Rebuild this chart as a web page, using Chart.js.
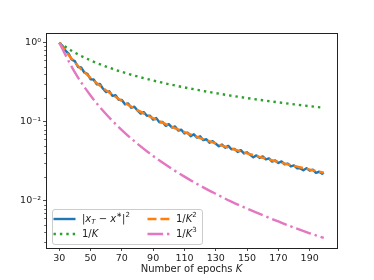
<!DOCTYPE html>
<html>
<head>
<meta charset="utf-8">
<script src="https://cdn.jsdelivr.net/npm/chart.js@4.4.1/dist/chart.umd.min.js"></script>
<style>
  html, body { margin: 0; padding: 0; background: #fff; }
  #wrap { width: 374px; height: 280px; }
</style>
</head>
<body>
<div id="wrap"><canvas id="chart" width="374" height="280"></canvas></div>
<script>
const epochsFine = [30, 32, 34, 36, 38, 40, 42, 44, 46, 48, 50, 52, 54, 56, 58, 60, 62, 64, 66, 68,
  70, 72, 74, 76, 78, 80, 82, 84, 86, 88, 90, 92, 94, 96, 98, 100, 102, 104, 106, 108,
  110, 112, 114, 116, 118, 120, 122, 124, 126, 128, 130, 132, 134, 136, 138, 140, 142, 144, 146, 148,
  150, 152, 154, 156, 158, 160, 162, 164, 166, 168, 170, 172, 174, 176, 178, 180, 182, 184, 186, 188,
  190, 192, 194, 196, 198, 199];
const errorValues = [1.000, 0.923, 0.794, 0.729, 0.611, 0.585, 0.495, 0.488, 0.421, 0.406,
  0.346, 0.343, 0.299, 0.301, 0.262, 0.2375, 0.2435, 0.2131, 0.2169, 0.1907,
  0.1892, 0.1667, 0.1710, 0.1511, 0.1553, 0.1392, 0.1271, 0.1327, 0.1193, 0.1197,
  0.1067, 0.1116, 0.0988, 0.0997, 0.0890, 0.0936, 0.0848, 0.0874, 0.0777, 0.0795,
  0.0714, 0.0731, 0.0658, 0.0696, 0.0633, 0.0656, 0.0587, 0.0603, 0.0544, 0.0571,
  0.0528, 0.0491, 0.0516, 0.0472, 0.0497, 0.0450, 0.0455, 0.0417, 0.0439, 0.0399,
  0.0412, 0.0382, 0.0356, 0.0377, 0.0350, 0.0366, 0.0336, 0.0345, 0.0314, 0.0325,
  0.0302, 0.0316, 0.0291, 0.0297, 0.0273, 0.0281, 0.0258, 0.0258, 0.0244, 0.0260,
  0.0242, 0.0249, 0.0227, 0.0234, 0.0221, 0.0227];

// reference rates, read every 10 epochs
const epochsCoarse = [30, 40, 50, 60, 70, 80, 90, 100, 110, 120, 130, 140, 150, 160, 170, 180, 190, 199];
const invK = [1.0, 0.75, 0.6, 0.5, 0.4286, 0.375, 0.3333, 0.3, 0.2727, 0.25, 0.2308, 0.2143,
  0.2, 0.1875, 0.1765, 0.1667, 0.1579, 0.1508];
const invK2 = [1.0, 0.5625, 0.36, 0.25, 0.1837, 0.1406, 0.1111, 0.09, 0.0744, 0.0625, 0.0533, 0.0459,
  0.04, 0.0352, 0.0311, 0.0278, 0.0249, 0.0227];
const invK3 = [1.0, 0.4219, 0.216, 0.125, 0.0787, 0.0527, 0.037, 0.027, 0.0203, 0.0156, 0.0123, 0.0098,
  0.008, 0.0066, 0.0055, 0.0046, 0.0039, 0.0034];

const xTicks = [30, 50, 70, 90, 110, 130, 150, 170, 190];
const yMajor = [0.01, 0.1, 1];
const yMajorLabels = ['10\u207B\u00B2', '10\u207B\u00B9', '10\u2070'];
const yMinor = [0.003, 0.004, 0.005, 0.006, 0.007, 0.008, 0.009,
  0.02, 0.03, 0.04, 0.05, 0.06, 0.07, 0.08, 0.09,
  0.2, 0.3, 0.4, 0.5, 0.6, 0.7, 0.8, 0.9];

const BLUE = '#1f77b4', ORANGE = '#ff7f0e', GREEN = '#2ca02c', PINK = '#e377c2';
const FONT = 'DejaVu Sans';
const DASH_DOT = [2.4, 4];
const DASH = [9, 3.9];
const DASH_DASHDOT = [15.6, 3.9, 2.4, 3.9];

function pts(xs, ys) {
  return xs.map((x, i) => ({ x: x, y: ys[i] }));
}

// draw a line of text made of pieces (italic / sub / superscript)
function drawRich(ctx, x, y, parts, size) {
  let cx = x;
  parts.forEach(p => {
    const s = p.small ? size * 0.7 : size;
    ctx.font = (p.it ? 'italic ' : '') + s + 'px "' + FONT + '"';
    ctx.fillText(p.t, cx, y + (p.dy || 0));
    cx += ctx.measureText(p.t).width;
  });
  return cx - x;
}

const extras = {
  id: 'extras',
  afterDatasetsDraw(chart) {
    const ctx = chart.ctx;
    const a = chart.chartArea;
    const ys = chart.scales.y;
    ctx.save();
    // minor ticks on log axis
    ctx.strokeStyle = '#222';
    ctx.lineWidth = 0.7;
    yMinor.forEach(v => {
      const py = Math.round(ys.getPixelForValue(v)) + 0.5;
      ctx.beginPath();
      ctx.moveTo(a.left - 1.8, py);
      ctx.lineTo(a.left, py);
      ctx.stroke();
    });
    // frame
    ctx.lineWidth = 1;
    ctx.strokeStyle = '#222';
    ctx.strokeRect(Math.round(a.left) + 0.5, Math.round(a.top) + 0.5,
      Math.round(a.right - a.left), Math.round(a.bottom - a.top));

    // legend
    const lx = a.left + 6, ly = a.bottom - 39, lw = 150, lh = 35;
    ctx.fillStyle = 'rgba(255,255,255,0.85)';
    ctx.strokeStyle = '#cccccc';
    ctx.beginPath();
    ctx.roundRect(lx + 0.5, ly + 0.5, lw, lh, 2.5);
    ctx.fill();
    ctx.stroke();

    const entries = [
      { c: BLUE, d: [], col: 0, row: 0, parts: [{ t: '|' }, { t: 'x', it: 1 }, { t: 'T', it: 1, small: 1, dy: 2.5 }, { t: ' \u2212 ' }, { t: 'x', it: 1 }, { t: '\u2217', small: 1, dy: -4 }, { t: '|' }, { t: '2', small: 1, dy: -4.5 }] },
      { c: GREEN, d: DASH_DOT, col: 0, row: 1, parts: [{ t: '1/' }, { t: 'K', it: 1 }] },
      { c: ORANGE, d: DASH, col: 1, row: 0, parts: [{ t: '1/' }, { t: 'K', it: 1 }, { t: '2', small: 1, dy: -4.5 }] },
      { c: PINK, d: DASH_DASHDOT, col: 1, row: 1, parts: [{ t: '1/' }, { t: 'K', it: 1 }, { t: '3', small: 1, dy: -4.5 }] }
    ];
    entries.forEach(e => {
      const x0 = e.col ? lx + 95.5 : lx + 1.5;
      const yRow = ly + 10 + e.row * 15;
      ctx.strokeStyle = e.c;
      ctx.lineWidth = 2.4;
      ctx.setLineDash(e.d);
      ctx.beginPath();
      ctx.moveTo(x0, yRow);
      ctx.lineTo(x0 + 22, yRow);
      ctx.stroke();
      ctx.setLineDash([]);
      ctx.fillStyle = '#222';
      ctx.textBaseline = 'middle';
      drawRich(ctx, x0 + 28.5, yRow + 0.5, e.parts, 10);
    });

    // x axis title with italic K
    ctx.textBaseline = 'alphabetic';
    ctx.fillStyle = '#222';
    ctx.font = '10px "' + FONT + '"';
    const t1 = 'Number of epochs ';
    const w1 = ctx.measureText(t1).width;
    ctx.font = 'italic 10px "' + FONT + '"';
    const w2 = ctx.measureText('K').width;
    const cx = (a.left + a.right) / 2 - (w1 + w2) / 2;
    drawRich(ctx, cx, 271.5, [{ t: t1 }, { t: 'K', it: 1 }], 10);
    ctx.restore();
  }
};

new Chart(document.getElementById('chart'), {
  type: 'line',
  data: {
    datasets: [
      { label: '|x_T - x*|^2', data: pts(epochsFine, errorValues), borderColor: BLUE,
        borderWidth: 2.4, pointRadius: 0, order: 4, borderJoinStyle: 'round' },
      { label: '1/K', data: pts(epochsCoarse, invK), borderColor: GREEN, borderWidth: 2.4,
        borderDash: DASH_DOT, pointRadius: 0, order: 3, cubicInterpolationMode: 'monotone' },
      { label: '1/K^2', data: pts(epochsCoarse, invK2), borderColor: ORANGE, borderWidth: 2.4,
        borderDash: DASH, pointRadius: 0, order: 2, cubicInterpolationMode: 'monotone' },
      { label: '1/K^3', data: pts(epochsCoarse, invK3), borderColor: PINK, borderWidth: 2.4,
        borderDash: DASH_DASHDOT, pointRadius: 0, order: 1, cubicInterpolationMode: 'monotone' }
    ]
  },
  options: {
    responsive: false,
    devicePixelRatio: 1,
    animation: false,
    events: [],
    layout: { padding: { top: 33, right: 37, left: 0, bottom: 0 } },
    plugins: { legend: { display: false }, tooltip: { enabled: false } },
    scales: {
      x: {
        type: 'linear', min: 21.55, max: 207.45,
        afterBuildTicks: s => { s.ticks = xTicks.map(v => ({ value: v })); },
        afterFit: s => { s.height = 32; },
        ticks: { font: { family: FONT, size: 9.5 }, color: '#222', padding: 2, maxRotation: 0, autoSkip: false },
        grid: { drawOnChartArea: false, tickLength: 3, color: '#222', tickWidth: 0.8 },
        border: { display: false }
      },
      y: {
        type: 'logarithmic', min: 0.00254, max: 1.33,
        afterBuildTicks: s => { s.ticks = yMajor.map(v => ({ value: v })); },
        afterFit: s => { s.width = 46; },
        ticks: {
          font: { family: FONT, size: 9.5 }, color: '#222', padding: 2, autoSkip: false,
          callback: v => yMajorLabels[yMajor.indexOf(v)]
        },
        grid: { drawOnChartArea: false, tickLength: 3, color: '#222', tickWidth: 0.8 },
        border: { display: false }
      }
    }
  },
  plugins: [extras]
});
</script>
</body>
</html>
